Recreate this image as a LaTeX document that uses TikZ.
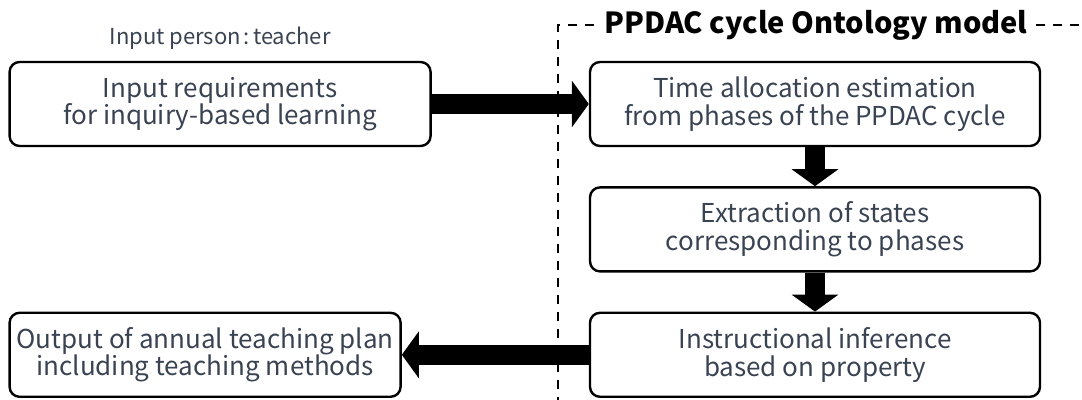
\documentclass[tikz,border=0pt]{standalone}
\usepackage{fontspec}
\setmainfont{Noto Sans CJK JP}
\usetikzlibrary{arrows.meta, positioning}
\definecolor{boxtext}{HTML}{3A4352}

\begin{document}
\begin{tikzpicture}[
  x=1pt, y=1pt,
  node distance=19.5pt,
  box/.style={draw, line width=1.2pt, rounded corners=5pt, align=center, text=boxtext, font=\fontsize{13}{13.8}\selectfont, minimum width=225pt, minimum height=42pt, inner sep=2pt},
  bigarrow/.style={-{Triangle[width=23pt, length=8.5pt]}, line width=10pt},
  frame/.style={dash pattern=on 4.5pt off 4pt, line width=1.1pt}
]
\useasboundingbox (0,0) rectangle (541,-200);
\node[box] (time) at (407.5,-52) {Time allocation estimation\\from phases of the PPDAC cycle};
\node[box, below=of time] (extract) {Extraction of states\\corresponding to phases};
\node[box, below=of extract] (infer) {Instructional inference\\based on property};
\node[box, minimum width=210.5pt, left=78.5pt of time] (input) {Input requirements\\for inquiry-based learning};
\node[box, minimum width=195.5pt, left=93.5pt of infer] (output) {Output of annual teaching plan\\including teaching methods};
\node[above=2pt of input, text=boxtext, font=\fontsize{11}{12}\selectfont] (person) {Input person\kern1.5pt:\kern1.5pt teacher};
\node[font=\bfseries\fontsize{14.5}{16}\selectfont, inner sep=0pt] (title) at (408,-12.5) {PPDAC cycle Ontology model};
\coordinate (corner) at (279,-12.5);
\coordinate (bottom) at (279,-200);
\coordinate (edge) at (541,-12.5);
\draw[frame] ([xshift=-5pt]title.west) -- (corner) -- (bottom);
\draw[frame] ([xshift=4pt]title.east) -- (edge);
\draw[bigarrow] (input) -- (time);
\draw[bigarrow] (time) -- (extract);
\draw[bigarrow] (extract) -- (infer);
\draw[bigarrow] (infer) -- (output);
\end{tikzpicture}
\end{document}
